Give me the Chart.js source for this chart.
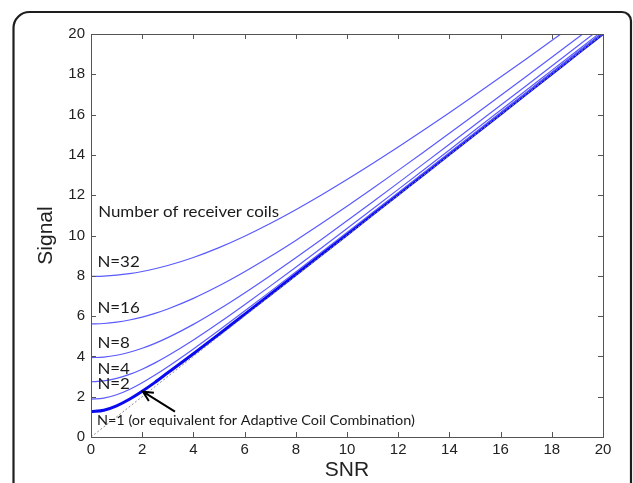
<!DOCTYPE html>
<html>
<head>
<meta charset="utf-8">
<script src="https://cdn.jsdelivr.net/npm/chart.js@4.4.0/dist/chart.umd.min.js"></script>
<style>
html,body{margin:0;padding:0;background:#fff;}
#wrap{width:633px;height:483px;position:relative;}
</style>
</head>
<body>
<div id="wrap"><canvas id="c" width="633" height="483"></canvas></div>
<script>
// ---- data ----
const snr = [0,0.5,1,1.5,2,2.5,3,4,5,6,7,8,9,10,11,12,13,14,15,16,17,18,19,20];
const n1  = [1.253,1.330,1.549,1.875,2.273,2.712,3.185,4.130,5.101,6.084,7.072,8.063,9.056,10.050,11.046,12.042,13.038,14.036,15.033,16.031,17.029,18.028,19.026,20.025];
const n2  = [1.880,1.929,2.098,2.360,2.693,3.073,3.486,4.370,5.298,6.249,7.214,8.187,9.166,10.150,11.137,12.125,13.115,14.107,15.100,16.094,17.088,18.083,19.079,20.075];
const n4  = [2.742,2.781,2.906,3.105,3.366,3.678,4.029,4.813,5.668,6.564,7.488,8.429,9.383,10.346,11.315,12.289,13.267,14.248,15.232,16.218,17.205,18.194,19.183,20.175];
const n8  = [3.937,3.968,4.058,4.206,4.405,4.649,4.932,5.590,6.340,7.152,8.008,8.894,9.802,10.727,11.664,12.611,13.566,14.527,15.493,16.463,17.436,18.412,19.391,20.372];
const n16 = [5.613,5.634,5.700,5.807,5.953,6.137,6.355,6.880,7.502,8.200,8.955,9.755,10.590,11.451,12.333,13.232,14.145,15.069,16.002,16.943,17.890,18.843,19.800,20.762];
const n32 = [7.969,7.984,8.031,8.108,8.214,8.349,8.511,8.911,9.400,9.966,10.596,11.280,12.009,12.775,13.571,14.393,15.236,16.097,16.974,17.864,18.764,19.675,20.593,21.590];
const identityX = [0,20];
const identityY = [0,20];
const xTicks = [0,2,4,6,8,10,12,14,16,18,20];
const yTicks = [0,2,4,6,8,10,12,14,16,18,20];
const labelTexts = ["Number of receiver coils","N=32","N=16","N=8","N=4","N=2","N=1 (or equivalent for Adaptive Coil Combination)"];
const labelX = [0.28,0.25,0.25,0.25,0.25,0.25,0.23];
const labelY = [11.18,8.70,6.42,4.65,3.37,2.63,0.83];
const arrowFrom = [3.28,1.26];
const arrowTo = [2.03,2.25];

const pts = (xs, ys) => xs.map((x,i)=>({x:x, y:ys[i]}));

const thin = '#5a5aff';
const thick = '#0a0af0';
// horizontal fit widths (px) for the two long notes
const fitTitle = 181, fitLast = 318;

const frame = {
  id:'frame',
  beforeDraw(chart){
    const ctx = chart.ctx;
    ctx.save();
    ctx.fillStyle='#fff';
    ctx.fillRect(0,0,chart.width,chart.height);
    ctx.strokeStyle='#1e1e1e';
    ctx.lineWidth=2.2;
    const l=13.5, t=12, r=631, rl=16, rr=9;
    ctx.beginPath();
    ctx.moveTo(l, 490);
    ctx.lineTo(l, t+rl);
    ctx.arcTo(l, t, l+rl, t, rl);
    ctx.lineTo(r-rr, t);
    ctx.arcTo(r, t, r, t+rr, rr);
    ctx.lineTo(r, 490);
    ctx.stroke();
    ctx.restore();
  },
  afterDatasetsDraw(chart){
    const ctx = chart.ctx, xs = chart.scales.x, ys = chart.scales.y, a = chart.chartArea;
    ctx.save();
    // box
    ctx.strokeStyle='#555';
    ctx.lineWidth=1;
    ctx.strokeRect(Math.round(a.left)+0.5, Math.round(a.top)+0.5, Math.round(a.right-a.left), Math.round(a.bottom-a.top));
    // inward ticks
    const tl=5;
    ctx.beginPath();
    xTicks.forEach(v=>{
      const p=Math.round(xs.getPixelForValue(v))+0.5;
      ctx.moveTo(p,a.bottom); ctx.lineTo(p,a.bottom-tl);
      ctx.moveTo(p,a.top); ctx.lineTo(p,a.top+tl);
    });
    yTicks.forEach(v=>{
      const p=Math.round(ys.getPixelForValue(v))+0.5;
      ctx.moveTo(a.left,p); ctx.lineTo(a.left+tl,p);
      ctx.moveTo(a.right,p); ctx.lineTo(a.right-tl,p);
    });
    ctx.stroke();
    // annotation texts
    ctx.fillStyle='#1a1a1a';
    ctx.textBaseline='middle';
    ctx.textAlign='left';
    const last = labelTexts.length-1;
    ctx.font='15.5px Lato';
    const sTitle = fitTitle/ctx.measureText(labelTexts[0]).width;
    ctx.font='14px Lato';
    const sLast = fitLast/ctx.measureText(labelTexts[last]).width;
    labelTexts.forEach((s,i)=>{
      const k = (i===last) ? sLast : sTitle;
      ctx.font = (i===last) ? '14px Lato' : '15.5px Lato';
      const px = xs.getPixelForValue(labelX[i]), py = ys.getPixelForValue(labelY[i]);
      ctx.save();
      ctx.translate(px, py);
      ctx.scale(k, 1);
      ctx.fillText(s, 0, 0);
      ctx.restore();
    });
    // arrow
    const x0=xs.getPixelForValue(arrowFrom[0]), y0=ys.getPixelForValue(arrowFrom[1]);
    const x1=xs.getPixelForValue(arrowTo[0]), y1=ys.getPixelForValue(arrowTo[1]);
    ctx.strokeStyle='#000';
    ctx.lineWidth=2;
    ctx.beginPath();
    ctx.moveTo(x0,y0); ctx.lineTo(x1,y1);
    const ang=Math.atan2(y1-y0,x1-x0), hl=11, ha=0.45;
    ctx.moveTo(x1-hl*Math.cos(ang-ha), y1-hl*Math.sin(ang-ha));
    ctx.lineTo(x1,y1);
    ctx.lineTo(x1-hl*Math.cos(ang+ha), y1-hl*Math.sin(ang+ha));
    ctx.stroke();
    ctx.restore();
  }
};

const mk = (label, ys, color, w) => ({
  label, data: pts(snr, ys), borderColor: color, backgroundColor: color,
  borderWidth: w, pointRadius: 0, tension: 0.4, cubicInterpolationMode:'monotone', fill:false
});

new Chart(document.getElementById('c'), {
  type:'line',
  data:{
    datasets:[
      {label:'y=x', data: pts(identityX, identityY), borderColor:'#8a8a8a', borderWidth:1, borderDash:[2,2], pointRadius:0, fill:false},
      mk('N=32', n32, thin, 1.2),
      mk('N=16', n16, thin, 1.2),
      mk('N=8', n8, thin, 1.2),
      mk('N=4', n4, thin, 1.2),
      mk('N=2', n2, thin, 1.2),
      mk('N=1', n1, thick, 3)
    ]
  },
  options:{
    responsive:false,
    animation:false,
    devicePixelRatio:1,
    layout:{padding:{left:34, top:34, right:30, bottom:0}},
    plugins:{legend:{display:false}, tooltip:{enabled:false}},
    scales:{
      x:{
        type:'linear', min:0, max:20,
        afterBuildTicks(s){ s.ticks = xTicks.map(v=>({value:v})); },
        afterFit(s){ s.height = 46; },
        grid:{display:false, drawTicks:false},
        border:{display:false},
        ticks:{color:'#222', font:{family:'"Liberation Sans", Arial', size:15}, padding:4, maxRotation:0, autoSkip:false},
        title:{display:true, text:'SNR', color:'#222', font:{family:'"Liberation Sans", Arial', size:21}, padding:{top:-2, bottom:0}}
      },
      y:{
        type:'linear', min:0, max:20,
        afterBuildTicks(s){ s.ticks = yTicks.map(v=>({value:v})); },
        afterFit(s){ s.width = 57; },
        grid:{display:false, drawTicks:false},
        border:{display:false},
        ticks:{color:'#222', font:{family:'"Liberation Sans", Arial', size:15}, padding:6, autoSkip:false},
        title:{display:true, text:'Signal', color:'#222', font:{family:'"Liberation Sans", Arial', size:21}, padding:{top:0, bottom:0}}
      }
    }
  },
  plugins:[frame]
});
</script>
</body>
</html>
